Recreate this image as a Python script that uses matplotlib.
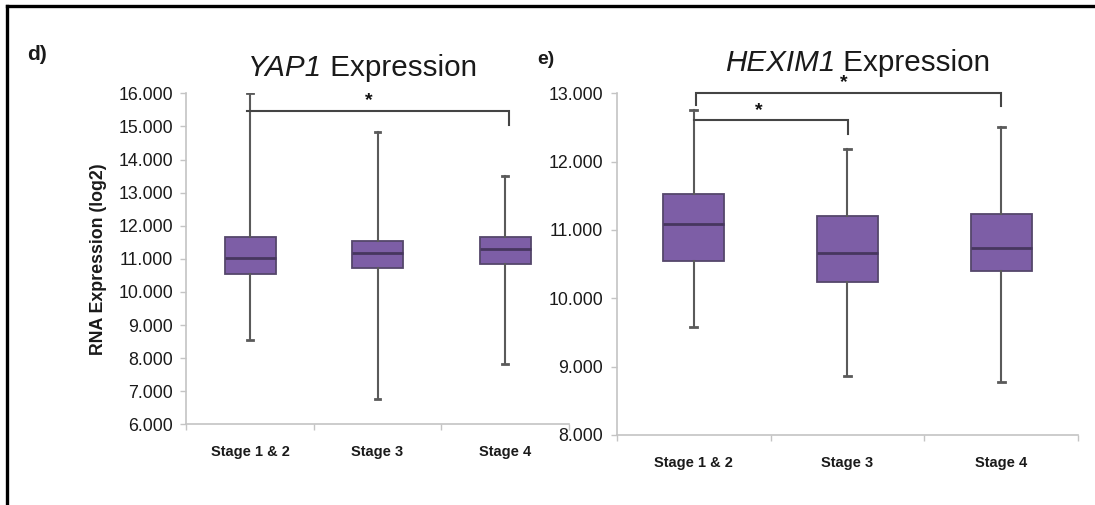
import matplotlib
matplotlib.use("Agg")
import matplotlib.pyplot as plt
from matplotlib.ticker import FixedLocator, FuncFormatter
from matplotlib.transforms import offset_copy

plt.rcParams['font.family'] = ['Liberation Sans', 'DejaVu Sans']

# ---------------- data ----------------
stages = ["Stage 1 & 2", "Stage 3", "Stage 4"]

yap1_q1 = [10.54, 10.73, 10.84]
yap1_med = [11.03, 11.18, 11.29]
yap1_q3 = [11.65, 11.53, 11.65]
yap1_lo = [8.55, 6.76, 7.81]
yap1_hi = [16.0, 14.84, 13.50]

hexim1_q1 = [10.54, 10.24, 10.40]
hexim1_med = [11.08, 10.66, 10.74]
hexim1_q3 = [11.53, 11.20, 11.23]
hexim1_lo = [9.58, 8.86, 8.77]
hexim1_hi = [12.75, 12.19, 12.50]

yap1_ticks = [6, 7, 8, 9, 10, 11, 12, 13, 14, 15, 16]
hexim1_ticks = [8, 9, 10, 11, 12, 13]

# significance brackets: (x_start, x_end, y_bar, y_left_end, y_right_end, star_x, star_y)
yap1_brackets = [(-0.02, 2.03, 15.47, 15.47, 15.04, 0.93, 15.77)]
hexim1_brackets = [(0.014, 2.0, 13.01, 12.83, 12.81, 0.977, 13.15),
                   (0.0, 1.005, 12.61, 12.61, 12.41, 0.425, 12.745)]

# ---------------- style ----------------
BOX_FACE = '#7d5ea6'
BOX_EDGE = '#55476b'
MED_COL = '#47365f'
WHISK = '#5a5a5a'
AXIS_COL = '#c4c4c4'
TXT = '#1a1a1a'

fig = plt.figure(figsize=(10.95, 5.05), dpi=100)

# frame lines (top and left)
fig.add_artist(plt.Line2D([7/1095, 1.0], [1 - 6/505, 1 - 6/505], color='black', lw=2.4,
                          transform=fig.transFigure))
fig.add_artist(plt.Line2D([7/1095, 7/1095], [0.0, 1 - 6/505], color='black', lw=2.4,
                          transform=fig.transFigure))


def draw_panel(ax, q1, med, q3, lo, hi, ticks, ylim, brackets):
    stats = []
    for i in range(len(stages)):
        stats.append(dict(med=med[i], q1=q1[i], q3=q3[i], whislo=lo[i], whishi=hi[i],
                          fliers=[], label=stages[i]))
    ax.bxp(stats, positions=range(len(stages)), widths=0.4, capwidths=0.045,
           showfliers=False, patch_artist=True,
           boxprops=dict(facecolor=BOX_FACE, edgecolor=BOX_EDGE, linewidth=1.3),
           medianprops=dict(color=MED_COL, linewidth=2.0),
           whiskerprops=dict(color=WHISK, linewidth=1.5),
           capprops=dict(color=WHISK, linewidth=2.0))
    ax.set_xlim(-0.5, len(stages) - 0.5)
    ax.set_ylim(*ylim)
    for s in ['top', 'right']:
        ax.spines[s].set_visible(False)
    for s in ['left', 'bottom']:
        ax.spines[s].set_color(AXIS_COL)
        ax.spines[s].set_linewidth(1.2)
    ax.yaxis.set_major_locator(FixedLocator(ticks))
    ax.yaxis.set_major_formatter(FuncFormatter(lambda v, p: f"{v:.3f}"))
    ax.tick_params(axis='y', length=4.5, width=1, color=AXIS_COL, labelsize=12.8,
                   labelcolor=TXT, pad=5)
    ax.set_xticks(range(len(stages)))
    ax.set_xticklabels(stages, fontsize=10.5, fontweight='bold', color=TXT)
    ax.tick_params(axis='x', which='major', length=0, pad=15)
    ax.set_xticks([i - 0.5 for i in range(len(stages) + 1)], minor=True)
    ax.tick_params(axis='x', which='minor', length=4.5, width=1, color=AXIS_COL)
    for (x0, x1, yb, yl, yr, sx, sy) in brackets:
        ax.plot([x0, x0, x1, x1], [yl, yb, yb, yr], color='#444444', lw=1.5,
                clip_on=False, solid_joinstyle='miter')
        ax.text(sx, sy, '*', ha='center', va='center', fontsize=14, fontweight='bold',
                color='#111111', clip_on=False)


ax1 = fig.add_axes([186.25/1095, (505 - 424.3)/505, 382.5/1095, 331/505])
draw_panel(ax1, yap1_q1, yap1_med, yap1_q3, yap1_lo, yap1_hi, yap1_ticks, (6, 16),
           yap1_brackets)
ax1.set_ylabel('RNA Expression (log2)', fontsize=12.8, fontweight='bold',
               color=TXT, labelpad=8)

ax2 = fig.add_axes([616.5/1095, (505 - 434.8)/505, 462/1095, 341.5/505])
draw_panel(ax2, hexim1_q1, hexim1_med, hexim1_q3, hexim1_lo, hexim1_hi, hexim1_ticks,
           (8, 13), hexim1_brackets)


def two_part_title(x_left_px, y_base_px, gene, rest, size):
    renderer = fig.canvas.get_renderer()
    t1 = fig.text(x_left_px / 1095, 1 - y_base_px / 505, gene, ha='left', va='baseline',
                  fontsize=size, style='italic', color=TXT)
    w = t1.get_window_extent(renderer=renderer).width
    tr = offset_copy(fig.transFigure, fig=fig, x=w * 72 / fig.dpi, y=0, units='points')
    fig.text(x_left_px / 1095, 1 - y_base_px / 505, rest, ha='left', va='baseline',
             fontsize=size, color=TXT, transform=tr)


two_part_title(248, 76.5, 'YAP1', ' Expression', 21.3)
two_part_title(725, 71, 'HEXIM1', ' Expression', 21.3)

fig.text(27/1095, 1 - 60/505, 'd)', ha='left', va='baseline', fontsize=15,
         fontweight='bold', color=TXT)
fig.text(537/1095, 1 - 64/505, 'e)', ha='left', va='baseline', fontsize=14,
         fontweight='bold', color=TXT)

fig.savefig('out.png', dpi=100, facecolor='white')
